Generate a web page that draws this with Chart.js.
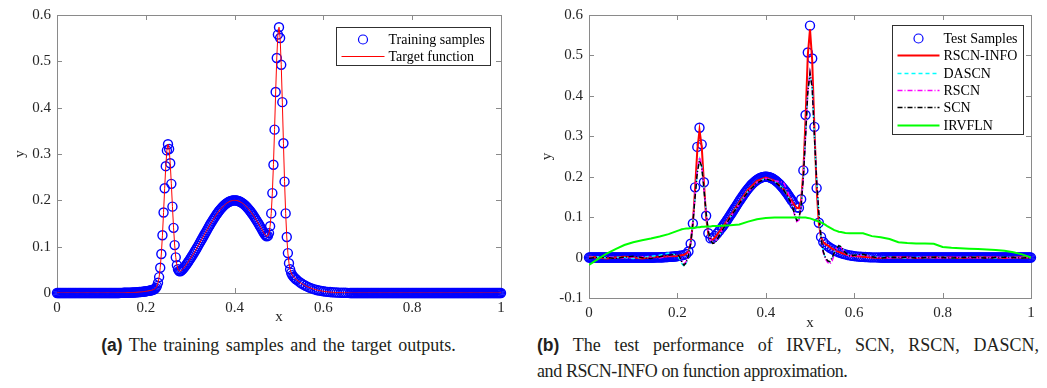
<!DOCTYPE html>
<html>
<head>
<meta charset="utf-8">
<script src="https://cdn.jsdelivr.net/npm/chart.js@4.4.1/dist/chart.umd.min.js"></script>
<style>
  body { margin: 0; width: 1047px; height: 388px; background: #fff; position: relative; overflow: hidden; }
  .panel { position: absolute; top: 0; }
  .cap { position: absolute; font: 18px/26px "Liberation Serif", serif; color: #231f20; white-space: nowrap; }
  .cap b { font-family: "Liberation Sans", sans-serif; font-weight: bold; font-size: 17.5px; }
  .just { text-align: justify; text-align-last: justify; white-space: normal; }
</style>
</head>
<body>
<div class="panel" style="left:0"><canvas id="chartA" width="520" height="330"></canvas></div>
<div class="panel" style="left:520px"><canvas id="chartB" width="527" height="332"></canvas></div>
<div class="cap" style="left:0;top:332px;width:557px;text-align:center;word-spacing:2px"><b>(a)</b> The training samples and the target outputs.</div>
<div class="cap" style="left:537px;top:332px;width:502px">
  <div class="just"><b>(b)</b> The test performance of IRVFL, SCN, RSCN, DASCN,</div>
  <div style="letter-spacing:-0.4px">and RSCN-INFO on function approximation.</div>
</div>
<script>
// flat stretches shared by both sample sets
const headX = [
  0,0.0025,0.005,0.0075,0.01,0.0125,0.015,0.0175,0.02,0.0225,0.025,0.0275,0.03,0.0325,0.035,0.0375,0.04,0.0425,0.045,0.0475,
  0.05,0.0525,0.055,0.0575,0.06,0.0625,0.065,0.0675,0.07,0.0725,0.075,0.0775,0.08,0.0825,0.085,0.0875,0.09,0.0925,0.095,0.0975,
  0.1,0.1025,0.105,0.1075,0.11,0.1125,0.115,0.1175,0.12,0.1225,0.125,0.1275,0.13,0.1325,0.135,0.1375,0.14,0.1425,0.145,0.1475,
  0.15,0.1525,0.155,0.1575,0.16,0.1625,0.165,0.1675,0.17,0.1725,0.175,0.1775,0.18,0.1825,0.185,0.1875,0.19,0.1925,0.195,0.1975
];
const headY = [
  0,0,0,0,0,0,0,0,0,0,0,0,0,0,0,0,0,0,0,0,
  0,0,0,0,0,0,0,0,0,0,0,0,0,0,0,0,0,0,0,0,
  0,0,0,0,0,0,0,0,0,0,0,0,0,0,0,0,0,0.0003,0.0003,0.0003,
  0.0004,0.0004,0.0005,0.0006,0.0006,0.0007,0.0008,0.0009,0.001,0.0011,0.0013,0.0014,0.0016,0.0018,0.002,0.0022,0.0024,0.0027,0.003,0.0033
];
const tailX = [
  0.66,0.6625,0.665,0.6675,0.67,0.6725,0.675,0.6775,0.68,0.6825,0.685,0.6875,0.69,0.6925,0.695,0.6975,0.7,0.7025,0.705,0.7075,
  0.71,0.7125,0.715,0.7175,0.72,0.7225,0.725,0.7275,0.73,0.7325,0.735,0.7375,0.74,0.7425,0.745,0.7475,0.75,0.7525,0.755,0.7575,
  0.76,0.7625,0.765,0.7675,0.77,0.7725,0.775,0.7775,0.78,0.7825,0.785,0.7875,0.79,0.7925,0.795,0.7975,0.8,0.8025,0.805,0.8075,
  0.81,0.8125,0.815,0.8175,0.82,0.8225,0.825,0.8275,0.83,0.8325,0.835,0.8375,0.84,0.8425,0.845,0.8475,0.85,0.8525,0.855,0.8575,
  0.86,0.8625,0.865,0.8675,0.87,0.8725,0.875,0.8775,0.88,0.8825,0.885,0.8875,0.89,0.8925,0.895,0.8975,0.9,0.9025,0.905,0.9075,
  0.91,0.9125,0.915,0.9175,0.92,0.9225,0.925,0.9275,0.93,0.9325,0.935,0.9375,0.94,0.9425,0.945,0.9475,0.95,0.9525,0.955,0.9575,
  0.96,0.9625,0.965,0.9675,0.97,0.9725,0.975,0.9775,0.98,0.9825,0.985,0.9875,0.99,0.9925,0.995,0.9975,1
];
const tailY = [
  0,0,0,0,0,0,0,0,0,0,0,0,0,0,0,0,0,0,0,0,
  0,0,0,0,0,0,0,0,0,0,0,0,0,0,0,0,0,0,0,0,
  0,0,0,0,0,0,0,0,0,0,0,0,0,0,0,0,0,0,0,0,
  0,0,0,0,0,0,0,0,0,0,0,0,0,0,0,0,0,0,0,0,
  0,0,0,0,0,0,0,0,0,0,0,0,0,0,0,0,0,0,0,0,
  0,0,0,0,0,0,0,0,0,0,0,0,0,0,0,0,0,0,0,0,
  0,0,0,0,0,0,0,0,0,0,0,0,0,0,0,0,0
];

// ---- panel (a): training samples between the flat stretches
const trainMidX = [
  0.2,0.2025,0.205,0.2075,0.21,0.2125,0.215,0.2175,0.22,0.2225,0.225,0.2275,0.23,0.2325,0.235,0.2375,0.24,0.2425,0.245,0.2475,
  0.25,0.2525,0.255,0.2575,0.26,0.2625,0.265,0.2675,0.27,0.2725,0.275,0.2775,0.28,0.2825,0.285,0.2875,0.29,0.2925,0.295,0.2975,0.3,
  0.3025,0.305,0.3075,0.31,0.3125,0.315,0.3175,0.32,0.3225,0.325,0.3275,0.33,0.3325,0.335,0.3375,0.34,0.3425,0.345,0.3475,0.35,
  0.3525,0.355,0.3575,0.36,0.3625,0.365,0.3675,0.37,0.3725,0.375,0.3775,0.38,0.3825,0.385,0.3875,0.39,0.3925,0.395,0.3975,0.4,
  0.4025,0.405,0.4075,0.41,0.4125,0.415,0.4175,0.42,0.4225,0.425,0.4275,0.43,0.4325,0.435,0.4375,0.44,0.4425,0.445,0.4475,0.45,
  0.4525,0.455,0.4575,
  0.46,0.4625,0.465,0.4675,0.47,0.4725,0.475,0.4775,0.48,0.4825,0.485,0.4875,0.49,0.4925,0.495,0.4975,0.5,0.5025,0.505,0.5075,0.51,0.5125,0.515,0.5175,0.52,0.5225,0.525,0.5275,0.53,0.5325,0.535,0.5375,0.54,
  0.545,0.55,0.555,0.56,0.565,0.57,0.575,0.58,0.585,0.59,0.595,0.6,0.605,0.61,0.615,0.62,0.625,0.63,0.635,0.64,0.645,0.65,0.655
];
const trainMidY = [
  0.0037,0.0041,0.0045,0.0049,0.0054,0.0059,0.0066,0.0074,0.0087,0.011,0.0149,0.022,0.0343,0.0544,0.0842,0.1247,0.1737,0.2261,0.2737,0.3078,
  0.3211,0.3109,0.28,0.2356,0.1864,0.1406,0.1034,0.0769,0.0601,0.0512,0.0474,0.047,0.0483,0.0506,0.0534,0.0564,0.0596,0.063,0.0664,0.07,0.0736,
  0.0773,0.0811,0.085,0.089,0.093,0.0971,0.1013,0.1055,0.1097,0.114,0.1182,0.1225,0.1268,0.131,0.1353,0.1395,0.1437,0.1478,0.1518,0.1558,
  0.1596,0.1633,0.167,0.1704,0.1738,0.1769,0.18,0.1828,0.1854,0.1879,0.1901,0.1922,0.194,0.1956,0.1969,0.198,0.1989,0.1995,0.1999,0.2,
  0.1999,0.1995,0.1989,0.198,0.1969,0.1956,0.194,0.1922,0.1901,0.1879,0.1854,0.1828,0.18,0.1769,0.1738,0.1704,0.167,0.1633,0.1596,0.1558,
  0.1518,0.1478,0.1437,
  0.1395,0.1353,0.131,0.1274,0.1241,0.1222,0.1232,0.1293,0.1442,0.1718,0.2156,0.2769,0.3526,0.4339,0.5072,0.5577,0.5736,0.5503,0.4925,0.4119,0.3232,0.2403,0.1718,0.1208,0.0861,0.0642,0.0511,0.0434,0.0385,0.0352,0.0326,0.0303,0.0282,
  0.0244,0.0211,0.0181,0.0155,0.0131,0.0111,0.0094,0.0078,0.0065,0.0054,0.0045,0.0037,0.003,0.0024,0.002,0.0016,0.0013,0.001,0.0008,0.0006,0.0005,0.0004,0.0003
];

// ---- panel (b): test samples between the flat stretches
const testMidX = [
  0.2,0.205,0.21,0.215,0.22,0.225,0.23,0.235,0.24,0.245,0.25,0.255,0.26,0.265,0.27,0.275,0.28,0.285,0.29,0.295,
  0.3,0.3025,0.305,0.3075,0.31,0.3125,0.315,0.3175,0.32,0.3225,0.325,0.3275,0.33,0.3325,0.335,0.3375,0.34,0.3425,0.345,0.3475,
  0.35,0.3525,0.355,0.3575,0.36,0.3625,0.365,0.3675,0.37,0.3725,0.375,0.3775,0.38,0.3825,0.385,0.3875,0.39,0.3925,0.395,0.3975,
  0.4,0.4025,0.405,0.4075,0.41,0.4125,0.415,0.4175,0.42,0.4225,0.425,0.4275,0.43,0.4325,0.435,0.4375,0.44,0.4425,0.445,0.4475,
  0.45,0.4525,0.455,0.4575,0.46,0.465,0.47,0.475,0.48,0.485,0.49,0.495,
  0.5,0.505,0.51,0.515,0.52,0.525,0.53,0.535,0.54,0.545,0.55,0.555,0.56,0.565,0.57,0.575,0.58,0.585,0.59,0.595,
  0.6,0.605,0.61,0.615,0.62,0.625,0.63,0.635,0.64,0.645,0.65,0.655
];
const testMidY = [
  0.0037,0.0045,0.0054,0.0066,0.0087,0.0149,0.0343,0.0842,0.1737,0.2737,0.3211,0.28,0.1864,0.1034,0.0601,0.0474,0.0483,0.0534,0.0596,0.0664,
  0.0736,0.0773,0.0811,0.085,0.089,0.093,0.0971,0.1013,0.1055,0.1097,0.114,0.1182,0.1225,0.1268,0.131,0.1353,0.1395,0.1437,0.1478,0.1518,
  0.1558,0.1596,0.1633,0.167,0.1704,0.1738,0.1769,0.18,0.1828,0.1854,0.1879,0.1901,0.1922,0.194,0.1956,0.1969,0.198,0.1989,0.1995,0.1999,
  0.2,0.1999,0.1995,0.1989,0.198,0.1969,0.1956,0.194,0.1922,0.1901,0.1879,0.1854,0.1828,0.18,0.1769,0.1738,0.1704,0.167,0.1633,0.1596,
  0.1558,0.1518,0.1478,0.1437,0.1395,0.131,0.1241,0.1232,0.1442,0.2156,0.3526,0.5072,
  0.5736,0.4925,0.3232,0.1718,0.0861,0.0511,0.0385,0.0326,0.0282,0.0244,0.0211,0.0181,0.0155,0.0131,0.0111,0.0094,0.0078,0.0065,0.0054,0.0045,
  0.0037,0.003,0.0024,0.002,0.0016,0.0013,0.001,0.0008,0.0006,0.0005,0.0004,0.0003
];

const trainX = headX.concat(trainMidX, tailX);
const trainY = headY.concat(trainMidY, tailY);
const testX = headX.concat(testMidX, tailX);
const testY = headY.concat(testMidY, tailY);

// ---- panel (b): model outputs, all on the same x grid
const modelX = [
  0,0.02,0.04,0.06,0.08,0.1,0.12,0.14,0.16,0.18,0.2,
  0.205,0.21,0.215,0.22,0.225,0.23,0.235,0.24,0.245,0.25,0.255,0.26,0.265,0.27,0.275,0.28,0.285,0.29,
  0.3,
  0.32,0.34,0.36,0.38,0.4,0.42,0.44,
  0.45,
  0.46,0.465,0.47,0.475,0.48,0.485,0.49,0.495,0.5,0.505,0.51,0.515,0.52,0.525,0.53,0.535,0.54,0.545,0.55,0.555,0.56,0.565,0.57,
  0.58,0.59,
  0.6,0.62,0.64,0.66,0.68,0.7,0.72,0.74,0.76,0.78,0.8,0.82,0.84,0.86,0.88,0.9,0.92,0.94,0.96,0.98,1
];
const rscnInfo = [
  0.002,0,-0.002,0,0.002,0,-0.002,0.001,0.002,0.003,0.004,
  0.005,0.006,0.007,0.01,0.015,0.035,0.085,0.17,0.265,0.315,0.275,0.185,0.1,0.058,0.045,0.044,0.05,0.057,
  0.071,
  0.103,0.137,0.168,0.19,0.198,0.19,0.169,
  0.155,
  0.138,0.13,0.123,0.122,0.142,0.212,0.345,0.5,0.565,0.487,0.32,0.17,0.085,0.05,0.038,0.033,0.03,0.026,0.022,0.019,0.016,0.014,0.012,
  0.008,0.005,
  0.004,0.002,0,-0.001,0,0.001,0,-0.001,0,0.001,0,0,-0.001,0,0.001,0,0,-0.001,0,0.001,0
];
const dascn = [
  0,0.002,-0.001,0.001,0,-0.002,0.001,0.003,0.006,0.011,0.006,
  -0.004,-0.015,-0.022,-0.014,0.004,0.034,0.086,0.152,0.212,0.244,0.228,0.172,0.11,0.066,0.044,0.036,0.037,0.046,
  0.066,
  0.101,0.134,0.164,0.186,0.196,0.189,0.17,
  0.152,
  0.129,0.107,0.091,0.095,0.13,0.2,0.302,0.412,0.457,0.422,0.305,0.19,0.108,0.05,0.014,-0.002,-0.009,-0.011,-0.002,0.012,0.024,0.03,0.027,
  0.013,0.005,
  0.005,0.007,0.003,0,0.001,0,-0.001,0.001,0,0,0.001,-0.001,0,0.001,0,0,-0.001,0.001,0,0,0
];
const rscn = [
  0.001,-0.001,0.002,0,-0.002,0.001,0.002,0,-0.001,0.004,0.007,
  0.003,-0.008,-0.016,-0.01,0.006,0.036,0.088,0.155,0.215,0.248,0.23,0.172,0.11,0.066,0.044,0.037,0.038,0.046,
  0.066,
  0.1,0.132,0.162,0.186,0.196,0.19,0.186,
  0.162,
  0.13,0.105,0.089,0.093,0.128,0.198,0.3,0.41,0.458,0.425,0.31,0.195,0.11,0.048,0.012,-0.004,-0.012,-0.016,-0.008,0.008,0.022,0.03,0.026,
  0.01,0.003,
  0.004,0.006,0.002,0,-0.001,0.001,0,-0.001,0.001,0,-0.001,0,0.001,0,-0.001,0,0.001,0,-0.001,0,0.001
];
const scn = [
  -0.002,0.001,0,-0.002,0.001,0.003,0,-0.002,0.002,0.006,0.008,
  0.002,-0.012,-0.019,-0.012,0.005,0.035,0.085,0.15,0.21,0.24,0.225,0.17,0.11,0.065,0.043,0.035,0.036,0.045,
  0.065,
  0.1,0.133,0.163,0.185,0.195,0.188,0.168,
  0.15,
  0.128,0.108,0.092,0.095,0.13,0.2,0.3,0.41,0.456,0.42,0.3,0.19,0.11,0.05,0.015,0,-0.008,-0.01,0,0.012,0.022,0.029,0.027,
  0.012,0.004,
  0.006,0.008,0.002,-0.001,0.001,0,0.001,-0.001,0,0.001,0,-0.001,0,0.001,0,-0.001,0,0.001,0,-0.001,0
];
const irvfln = [
  -0.018,-0.004,0.01,0.021,0.031,0.038,0.043,0.047,0.052,0.058,0.066,
  0.068,0.07,0.071,0.072,0.072,0.073,0.073,0.074,0.075,0.075,0.076,0.076,0.077,0.077,0.077,0.078,0.078,0.078,
  0.079,
  0.08,0.082,0.089,0.095,0.098,0.099,0.099,
  0.099,
  0.099,0.099,0.099,0.099,0.099,0.099,0.099,0.098,0.097,0.095,0.093,0.091,0.089,0.087,0.084,0.081,0.077,0.074,0.071,0.068,0.066,0.064,0.063,
  0.061,0.06,
  0.06,0.06,0.053,0.05,0.046,0.038,0.036,0.035,0.035,0.034,0.026,0.024,0.023,0.022,0.021,0.02,0.019,0.017,0.013,0.008,0
];

const pts = (xs, ys) => xs.map((x, i) => ({x: x, y: ys[i]}));

Chart.defaults.font.family = '"Liberation Serif", "Times New Roman", serif';
Chart.defaults.animation = false;

// MATLAB-like box with inward ticks on all four sides
const frame = {
  id: 'frame',
  beforeDatasetsDraw(chart) {
    const ctx = chart.ctx, a = chart.chartArea, sx = chart.scales.x, sy = chart.scales.y;
    ctx.save();
    ctx.strokeStyle = '#8a8a8a';
    ctx.lineWidth = 1;
    ctx.strokeRect(Math.round(a.left) + 0.5, Math.round(a.top) + 0.5, Math.round(a.right - a.left), Math.round(a.bottom - a.top));
    ctx.beginPath();
    sx.ticks.forEach(t => {
      const p = Math.round(sx.getPixelForValue(t.value)) + 0.5;
      ctx.moveTo(p, a.bottom); ctx.lineTo(p, a.bottom - 5);
      ctx.moveTo(p, a.top); ctx.lineTo(p, a.top + 5);
    });
    sy.ticks.forEach(t => {
      const p = Math.round(sy.getPixelForValue(t.value)) + 0.5;
      ctx.moveTo(a.left, p); ctx.lineTo(a.left + 5, p);
      ctx.moveTo(a.right, p); ctx.lineTo(a.right - 5, p);
    });
    ctx.stroke();
    ctx.restore();
  }
};

// boxed legend inside the top right corner of the plot area
const boxLegend = {
  id: 'boxLegend',
  afterDatasetsDraw(chart, args, o) {
    const ctx = chart.ctx, a = chart.chartArea, sets = chart.data.datasets;
    ctx.save();
    ctx.font = '14px "Liberation Serif"';
    const textW = Math.max(...sets.map(d => ctx.measureText(d.label).width));
    const w = Math.round(5 + o.sample + 4 + textW + 6);
    const h = Math.round(o.first + o.rowH * (sets.length - 1) + o.padB);
    const left = Math.round(a.right - o.right - w) + 0.5;
    const top = Math.round(a.top + o.top) + 0.5;
    ctx.fillStyle = '#fff';
    ctx.fillRect(left, top, w, h);
    ctx.strokeStyle = '#303030';
    ctx.lineWidth = 1;
    ctx.strokeRect(left, top, w, h);
    sets.forEach((d, i) => {
      const cy = Math.round(top + o.first + i * o.rowH) + 0.5;
      const x0 = left + 5, x1 = x0 + o.sample;
      if (d.showLine === false) {
        ctx.setLineDash([]);
        ctx.strokeStyle = d.pointBorderColor;
        ctx.lineWidth = 1.2;
        ctx.beginPath();
        ctx.arc((x0 + x1) / 2, cy, 4.5, 0, Math.PI * 2);
        ctx.stroke();
      } else {
        ctx.setLineDash(d.borderDash || []);
        ctx.strokeStyle = d.borderColor;
        ctx.lineWidth = d.borderWidth;
        ctx.beginPath();
        ctx.moveTo(x0, cy);
        ctx.lineTo(x1, cy);
        ctx.stroke();
      }
      ctx.fillStyle = '#000';
      ctx.textBaseline = 'middle';
      ctx.fillText(d.label, x1 + 4, cy + 1);
    });
    ctx.restore();
  }
};

const tickFont = {size: 15};
const tickColor = '#262626';
const fmt = v => String(Math.round(v * 10) / 10);

function makeOptions(c) {
  return {
    responsive: false,
    devicePixelRatio: 1,
    animation: false,
    layout: {padding: {left: 0, top: 15, right: c.padRight, bottom: 0}},
    plugins: {
      legend: {display: false},
      tooltip: {enabled: false},
      boxLegend: c.legend
    },
    scales: {
      x: {
        type: 'linear', min: 0, max: 1,
        afterFit: s => { s.height = c.xHeight; },
        grid: {display: false, drawTicks: false},
        border: {display: false},
        ticks: {stepSize: 0.2, padding: 6, font: tickFont, color: tickColor, maxRotation: 0, autoSkip: false, callback: fmt},
        title: {display: true, text: 'x', font: {size: 15}, color: tickColor, padding: {top: 0, bottom: c.xTitlePad}}
      },
      y: {
        type: 'linear', min: c.yMin, max: c.yMax,
        afterFit: s => { s.width = c.yWidth; },
        grid: {display: false, drawTicks: false},
        border: {display: false},
        ticks: {stepSize: 0.1, padding: 6, font: tickFont, color: tickColor, autoSkip: false, callback: fmt},
        title: {display: true, text: 'y', font: {size: 15}, color: tickColor, padding: {top: c.yTitlePad, bottom: 0}}
      }
    }
  };
}

const circleSet = (label, data, order) => ({
  label: label, data: data, showLine: false, order: order,
  pointStyle: 'circle', pointRadius: 4.5, pointHoverRadius: 4.5,
  pointBorderColor: '#0000ff', pointBackgroundColor: 'rgba(0,0,0,0)', pointBorderWidth: 1.4, clip: 8
});
const lineSet = (label, data, color, width, dash, order) => ({
  label: label, data: data, showLine: true, order: order,
  borderColor: color, borderWidth: width, borderDash: dash, pointRadius: 0, tension: 0, fill: false
});

new Chart(document.getElementById('chartA'), {
  type: 'scatter',
  data: {
    datasets: [
      circleSet('Training samples', pts(trainX, trainY), 2),
      lineSet('Target function', pts(trainX, trainY), '#ff0000', 1, [], 1)
    ]
  },
  options: makeOptions({
    padRight: 19, xHeight: 37, yWidth: 57, yMin: 0, yMax: 0.6, xTitlePad: 4, yTitlePad: 11,
    legend: {right: 11, top: 12, first: 11, rowH: 17, padB: 10, sample: 43}
  }),
  plugins: [frame, boxLegend]
});

new Chart(document.getElementById('chartB'), {
  type: 'scatter',
  data: {
    datasets: [
      circleSet('Test Samples', pts(testX, testY), 6),
      lineSet('RSCN-INFO', pts(modelX, rscnInfo), '#ff0000', 2, [], 5),
      lineSet('DASCN', pts(modelX, dascn), '#00ffff', 1.5, [4, 3], 4),
      lineSet('RSCN', pts(modelX, rscn), '#ff00ff', 1.5, [5, 2, 1, 2], 3),
      lineSet('SCN', pts(modelX, scn), '#000000', 1.5, [5, 2, 1, 2], 2),
      lineSet('IRVFLN', pts(modelX, irvfln), '#00ff00', 2, [], 1)
    ]
  },
  options: makeOptions({
    padRight: 16, xHeight: 34, yWidth: 69, yMin: -0.1, yMax: 0.6, xTitlePad: 0, yTitlePad: 18,
    legend: {right: 8, top: 10, first: 12.3, rowH: 17.35, padB: 10, sample: 42}
  }),
  plugins: [frame, boxLegend]
});
</script>
</body>
</html>
